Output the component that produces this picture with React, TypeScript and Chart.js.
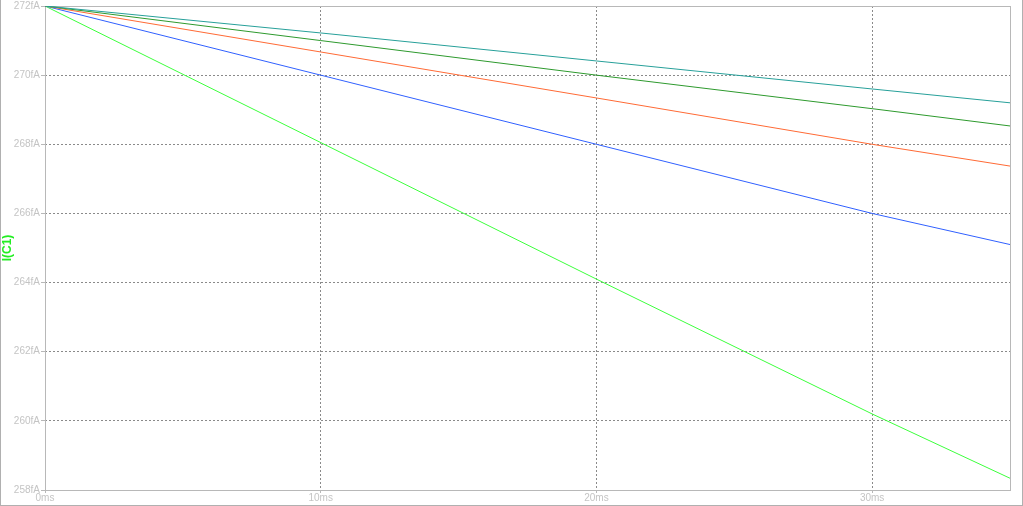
import { useEffect, useRef } from "react";
import { Chart, registerables } from "chart.js";

Chart.register(...registerables);

// time axis (ms) and the five traces of I(C1) in fA
const times = [0, 10, 20, 30, 35];
const traceBlue = [272, 270.0, 268.0, 266.0, 265.1];
const traceOrange = [272, 270.67, 269.34, 268.0, 267.37];
const traceDarkGreen = [272, 271.0, 270.0, 269.03, 268.53];
const traceTeal = [272, 271.22, 270.41, 269.6, 269.2];
const traceGreen = [272, 268.05, 264.1, 260.2, 258.34];

const yTicks = [258, 260, 262, 264, 266, 268, 270, 272];
const xTicks = [0, 10, 20, 30];

const toPoints = (ys: number[]) => ys.map((y, i) => ({ x: times[i], y }));

const frame = {
  id: "plotFrame",
  beforeDatasetsDraw(chart: Chart) {
    const { ctx, chartArea } = chart;
    ctx.save();
    ctx.strokeStyle = "#b8b8b8";
    ctx.lineWidth = 1;
    ctx.strokeRect(
      Math.round(chartArea.left) + 0.5,
      Math.round(chartArea.top) + 0.5,
      Math.round(chartArea.right - chartArea.left),
      Math.round(chartArea.bottom - chartArea.top)
    );
    ctx.restore();
  },
};

export default function App() {
  const chartRef = useRef<HTMLCanvasElement>(null);
  const chartInstance = useRef<Chart | null>(null);

  useEffect(() => {
    document.body.style.margin = "0";
    if (!chartRef.current) return;
    if (chartInstance.current) chartInstance.current.destroy();
    const ctx = chartRef.current.getContext("2d");
    if (!ctx) return;

    const line = (data: number[], color: string) => ({
      data: toPoints(data),
      borderColor: color,
      borderWidth: 1,
      pointRadius: 0,
      fill: false,
      tension: 0,
    });

    chartInstance.current = new Chart(ctx, {
      type: "line",
      data: {
        datasets: [
          line(traceTeal, "#27a09a"),
          line(traceDarkGreen, "#2e9a2e"),
          line(traceOrange, "#ff6a35"),
          line(traceBlue, "#3060ff"),
          line(traceGreen, "#3cff3c"),
        ],
      },
      options: {
        animation: false,
        responsive: true,
        maintainAspectRatio: false,
        devicePixelRatio: 1,
        layout: { padding: { left: 0, right: 13, top: 5, bottom: 0 } },
        plugins: { legend: { display: false }, tooltip: { enabled: false } },
        scales: {
          x: {
            type: "linear",
            min: 0,
            max: 35,
            afterBuildTicks: (scale: any) => {
              scale.ticks = xTicks.map((v) => ({ value: v }));
            },
            afterFit: (scale: any) => {
              scale.height = 16;
            },
            ticks: {
              includeBounds: false,
              color: "#c4c4c4",
              font: { family: "Liberation Sans", size: 10, lineHeight: 1 },
              padding: 0,
              maxRotation: 0,
              callback: (v: any) => v + "ms",
            },
            grid: {
              color: "#8a8a8a",
              tickColor: "#b8b8b8",
              tickLength: 3,
              drawTicks: true,
            },
            border: { display: false, dash: [2, 2] },
          },
          y: {
            type: "linear",
            min: 258,
            max: 272,
            afterBuildTicks: (scale: any) => {
              scale.ticks = yTicks.map((v) => ({ value: v }));
            },
            afterFit: (scale: any) => {
              scale.width = 45;
            },
            title: {
              display: true,
              text: "I(C1)",
              color: "#22ee22",
              font: { family: "Liberation Sans", size: 12, weight: "bold" },
              padding: { top: 0, bottom: 0 },
            },
            ticks: {
              color: "#c4c4c4",
              font: { family: "Liberation Sans", size: 10, lineHeight: 1 },
              padding: 1,
              callback: (v: any) => v + "fA",
            },
            grid: {
              color: "#8a8a8a",
              tickColor: "#b8b8b8",
              tickLength: 4,
              drawTicks: true,
            },
            border: { display: false, dash: [2, 2] },
          },
        },
      },
      plugins: [frame],
    });

    return () => {
      if (chartInstance.current) {
        chartInstance.current.destroy();
        chartInstance.current = null;
      }
    };
  }, []);

  return (
    <div style={{ position: "relative", width: 1023, height: 506, background: "#ffffff" }}>
      <canvas ref={chartRef} />
      <div
        style={{
          position: "absolute",
          inset: 0,
          borderLeft: "1px solid #b0b0b0",
          borderRight: "1px solid #b0b0b0",
          borderBottom: "1px solid #b0b0b0",
          pointerEvents: "none",
        }}
      />
    </div>
  );
}
